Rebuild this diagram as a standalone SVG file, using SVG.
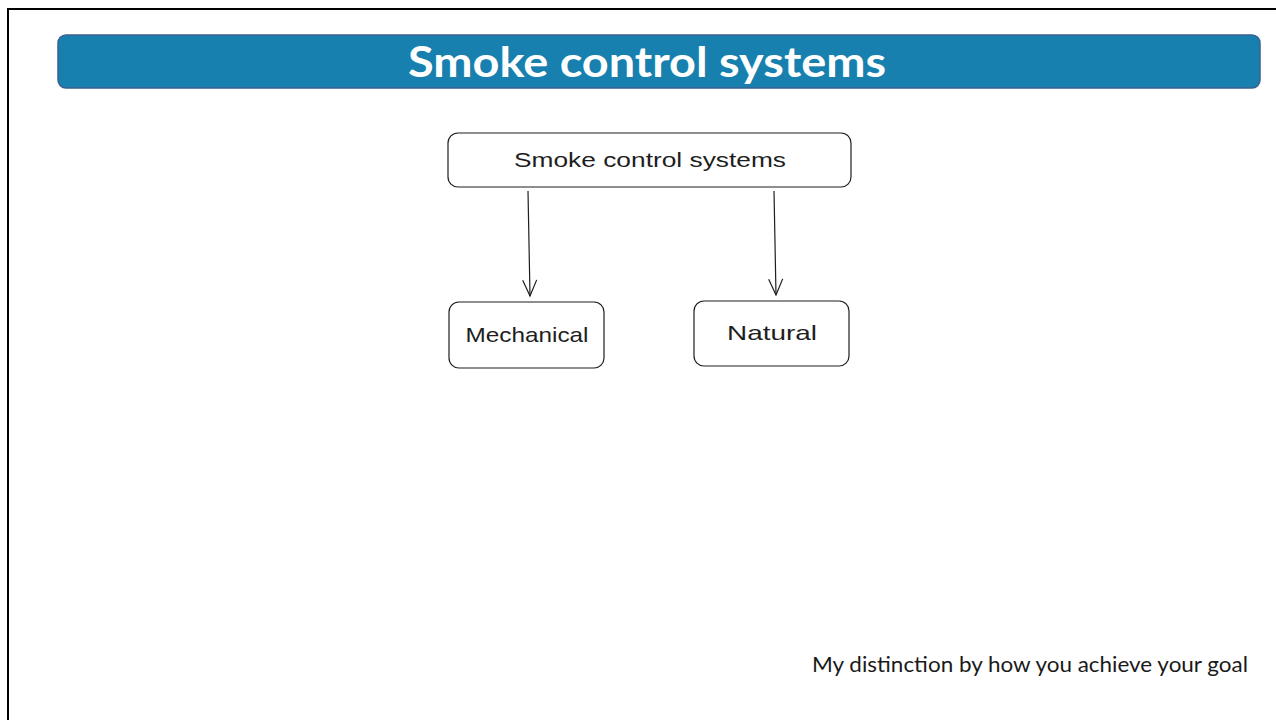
<svg xmlns="http://www.w3.org/2000/svg" width="1276" height="720" viewBox="0 0 1276 720">
<style>
.node{fill:#fff;stroke:#1e1e1e;stroke-width:1.2}
.nt{font-family:"Liberation Sans",Arial,sans-serif;font-size:21px;fill:#1e1e1e;text-anchor:middle}
.conn{stroke:#1e1e1e;stroke-width:1.2;fill:none}
</style>
<defs>
<marker id="arr" viewBox="0 0 20 20" refX="18" refY="10" markerWidth="20" markerHeight="20" markerUnits="userSpaceOnUse" orient="auto">
<path d="M2 3 L18 10 L2 17" fill="none" stroke="#1e1e1e" stroke-width="1.2"/>
</marker>
</defs>
<rect x="0" y="0" width="1276" height="720" fill="#fff"/>
<rect x="8" y="9" width="1280" height="720" fill="none" stroke="#000" stroke-width="2"/>
<g id="title">
<rect x="58" y="35" width="1202" height="53" rx="8" fill="#1780ae" stroke="#3a6090" stroke-width="1.5"/>
<text x="647" y="77" font-family="Lato,'Open Sans',sans-serif" font-weight="bold" font-size="42" fill="#fff" text-anchor="middle" textLength="478" lengthAdjust="spacingAndGlyphs">Smoke control systems</text>
</g>
<g id="connectors">
<path class="conn" d="M528 191 L530 296" marker-end="url(#arr)"/>
<path class="conn" d="M774 191 L776 295" marker-end="url(#arr)"/>
</g>
<g id="n-root">
<rect class="node" x="448" y="133" width="403" height="54" rx="10"/>
<text class="nt" x="650" y="167" textLength="272" lengthAdjust="spacingAndGlyphs">Smoke control systems</text>
</g>
<g id="n-mech">
<rect class="node" x="449" y="302" width="155" height="66" rx="10"/>
<text class="nt" x="527" y="342" textLength="123" lengthAdjust="spacingAndGlyphs">Mechanical</text>
</g>
<g id="n-nat">
<rect class="node" x="694" y="301" width="155" height="65" rx="10"/>
<text class="nt" x="772" y="340" textLength="90" lengthAdjust="spacingAndGlyphs">Natural</text>
</g>
<text id="note" x="1248" y="672" font-family="Lato,'Open Sans',sans-serif" font-size="22" fill="#1a1a1a" text-anchor="end" textLength="436" lengthAdjust="spacingAndGlyphs">My distinction by how you achieve your goal</text>
</svg>
